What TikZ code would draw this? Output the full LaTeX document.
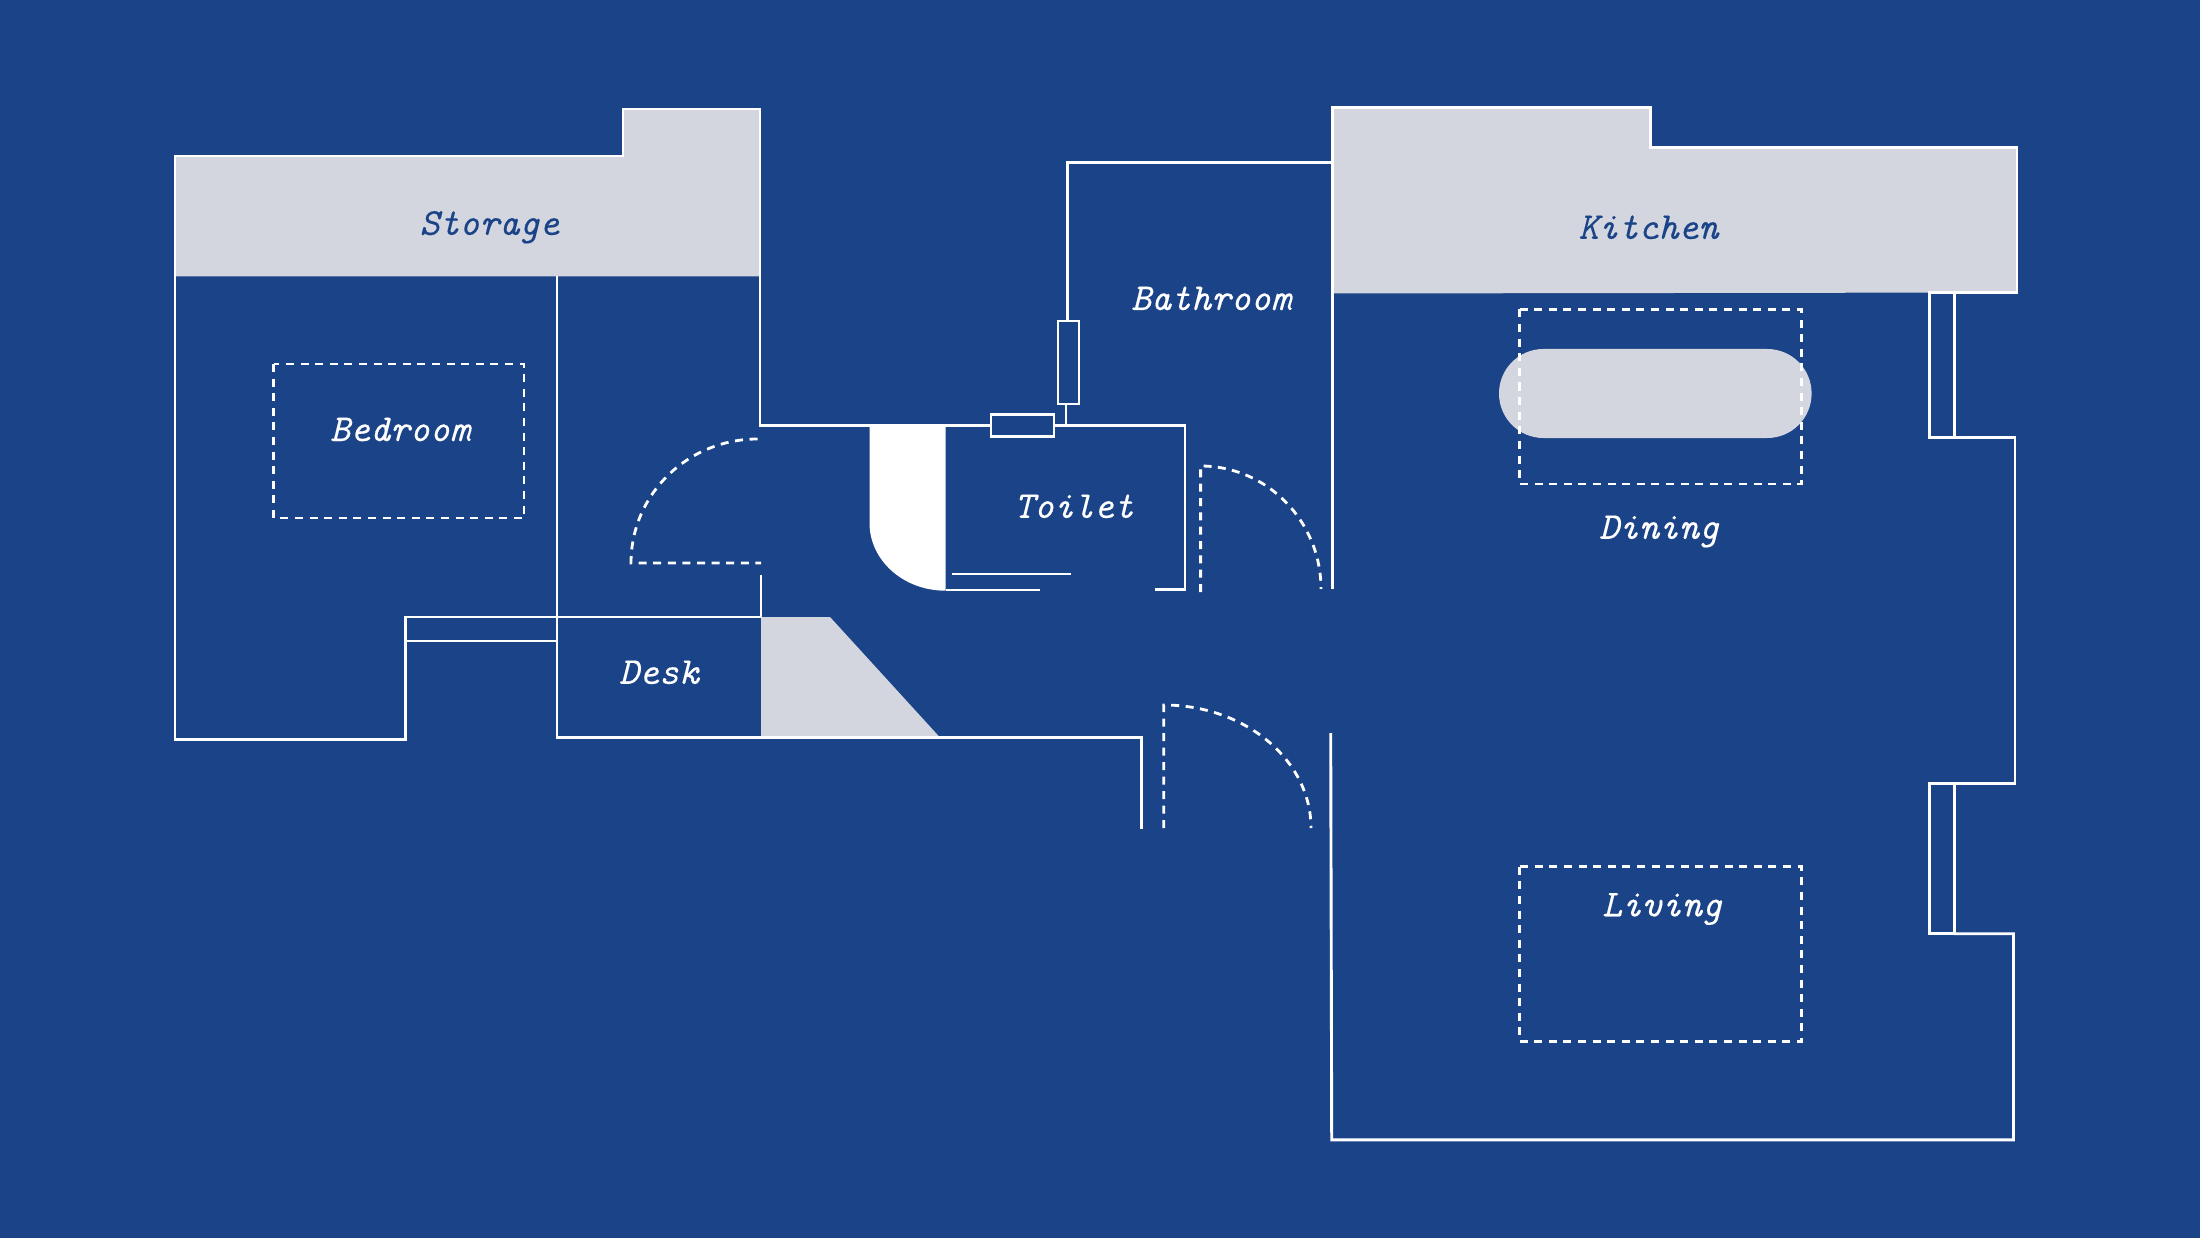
\documentclass[tikz,border=0pt]{standalone}
\usepackage{fontspec}
\setmonofont{Latin Modern Mono}[ItalicFeatures={FakeBold=0.3}]
\definecolor{bgblue}{RGB}{27,67,136}
\definecolor{panel}{RGB}{211,214,223}
\tikzset{
  wall/.style={draw=white,line width=2.9pt,line join=miter},
  dashline/.style={draw=white,line width=2.8pt,dash pattern=on 8pt off 6.6pt},
  lbl/.style={font=\fontsize{38}{38}\selectfont\ttfamily\itshape,text=white,anchor=base,inner sep=0pt},
  lbldark/.style={lbl,text=bgblue}
}
\begin{document}
\begin{tikzpicture}[x=1pt,y=-1pt]
\useasboundingbox[fill=bgblue] (0,0) rectangle (2200,1238);
% grey fills
\fill[panel] (175,156) -- (623,156) -- (623,109) -- (760,109) -- (760,276.5) -- (175,276.5) -- cycle;
\fill[panel] (1332.7,107.2) -- (1650.5,107.2) -- (1650.5,147.7) -- (2017,147.7) -- (2017,292.5) -- (1332.7,293.5) -- cycle;
\fill[panel] (761,617) -- (830,617) -- (940,737.5) -- (761,737.5) -- cycle;
\fill[panel,rounded corners=44.4pt] (1499,349) rectangle (1811.6,438);
% white shape
\fill[white] (869.5,425.7) -- (945.6,425.7) -- (945.6,590.7) .. controls (903,590.7) and (869.5,560) .. (869.5,523) -- cycle;
% storage walls
\draw[wall] (175,276.5) -- (175,156) -- (623,156) -- (623,109) -- (760,109) -- (760,425.7) -- (991,425.7);
% bedroom / left block
\draw[wall] (175,276) -- (175,739.5) -- (405.5,739.5) -- (405.5,617) -- (761,617);
\draw[wall] (405.5,641) -- (557,641);
\draw[wall] (557,276.5) -- (557,737.7) -- (1141.4,737.7) -- (1141.4,829);
\draw[wall] (761,575) -- (761,617);
% toilet / bathroom
\draw[wall] (991,414.5) rectangle (1054,436.7);
\draw[wall] (1058,321) rectangle (1079,404);
\draw[wall] (1066,404) -- (1066,425.7);
\draw[wall] (1054,425.7) -- (1185,425.7) -- (1185,589.5) -- (1155,589.5);
\draw[wall] (1067.5,321) -- (1067.5,162.7) -- (1332.7,162.7);
\draw[wall] (945.6,590) -- (1040,590);
\draw[wall] (952,574) -- (1071,574);
% kitchen / living
\draw[wall] (1332.7,589) -- (1332.7,107.2) -- (1650.5,107.2) -- (1650.5,147.7) -- (2017,147.7) -- (2017,292.5) -- (1954.2,292.5);
\draw[wall] (1929.7,292.5) rectangle (1954.2,437.7);
\draw[wall] (1954.2,437.7) -- (2015,437.7) -- (2015,783.7) -- (1954.2,783.7);
\draw[wall] (1929.7,783.7) rectangle (1954.2,933.7);
\draw[wall] (1954.2,933.7) -- (2013.5,933.7) -- (2013.5,1139.8) -- (1331.7,1139.8) -- (1330.7,733);
% dashed
\draw[dashline] (273.7,364) rectangle (524,518);
\draw[dashline] (1519.2,309.5) rectangle (1801.5,484);
\draw[dashline] (1519.2,866.7) rectangle (1801.5,1041.5);
\draw[dashline] (757.5,439) .. controls (688,439) and (631,494) .. (631,563) -- (761,563);
\draw[dashline,dash pattern=on 8pt off 6.33pt] (1200.6,592) -- (1200.6,466) .. controls (1267,466) and (1321,521) .. (1321,589);
\draw[dashline,dash pattern=on 8pt off 6.5pt] (1163.7,828) -- (1163.7,705) .. controls (1245,705) and (1311,760) .. (1311,828);
% labels
\node[lbldark] (storage) at (489.5,234.8) {Storage};
\node[lbldark] (kitchen) at (1648.5,238.8) {Kitchen};
\node[lbl] (bathroom) at (1211,310) {Bathroom};
\node[lbl] (bedroom) at (400,441) {Bedroom};
\node[lbl] (toilet) at (1074,517.8) {Toilet};
\node[lbl] (desk) at (659,683.8) {Desk};
\node[lbl] (dining) at (1659,538.8) {Dining};
\node[lbl] (living) at (1662,916.3) {Living};
\end{tikzpicture}
\end{document}
